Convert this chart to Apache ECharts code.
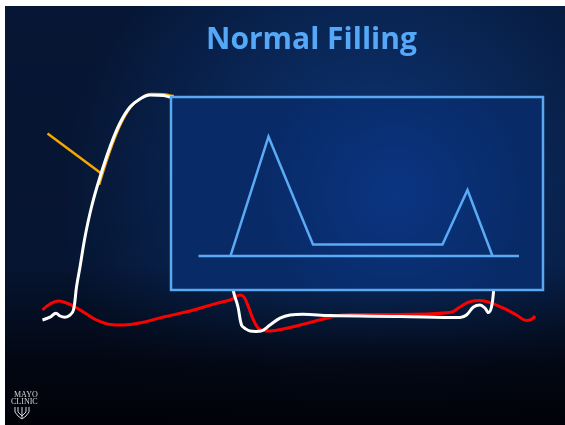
<!DOCTYPE html>
<html>
<head>
<meta charset="utf-8">
<script src="https://cdn.jsdelivr.net/npm/echarts@6/dist/echarts.min.js"></script>
<style>
  html, body { margin: 0; padding: 0; background: #ffffff; }
  #chart { width: 565px; height: 425px; }
</style>
</head>
<body>
<div id="chart"></div>
<script>
// Cardiac cycle: time (ms) vs pressure (mmHg)
const lvPressure = [
  [5, 7.5], [20, 8.9], [32, 10.9], [40, 9.5], [50, 8.9], [60, 9.9], [67, 12.5],
  [73, 24], [80, 34], [90, 49], [103, 64], [120, 79], [140, 94], [160, 106],
  [180, 114], [200, 118], [220, 120], [247, 119.7], [260, 119],
  [300, 117.5], [340, 102], [370, 67], [384, 27.5],
  [387, 21.7], [396, 14], [403, 5], [410, 3.3], [420, 2], [432, 1.8], [442, 2],
  [460, 5], [480, 8.4], [500, 10], [526, 10.4], [580, 9.7], [720, 9.3],
  [840, 8.8], [853, 10], [867, 14], [880, 15], [890, 13.4], [897, 11.2],
  [903, 14], [907, 21.7], [912, 42.5], [914, 67.5]
];
const laPressure = [
  [5, 12.5], [20, 15.5], [37, 17], [53, 16], [70, 14], [90, 11], [113, 7.5],
  [140, 5.3], [167, 5], [200, 6], [247, 9], [300, 12], [353, 15.8], [380, 17.5],
  [400, 20], [408, 19], [417, 14], [427, 7.5], [440, 2.8], [460, 2], [493, 3.4],
  [533, 5.8], [573, 8.4], [620, 10.2], [720, 10.2], [820, 11.2], [840, 14],
  [860, 16.7], [880, 17.2], [900, 16.2], [927, 13.4], [953, 10], [973, 7.2],
  [983, 7.8], [990, 9.5]
];
// pointer to the upstroke
const pointer = [[15, 100.8], [124, 80.5]];

// Mitral inflow Doppler: time (ms) vs velocity (cm/s)
const mitralFlow = [
  [119, 0], [195, 105], [284, 10], [543, 10], [593, 58], [643, 0]
];
const dopplerBaseline = [[55, 0], [696, 0]];

const chart = echarts.init(document.getElementById('chart'), null, { renderer: 'canvas' });

const hiddenAxis = {
  show: false, axisLine: { show: false }, axisTick: { show: false },
  axisLabel: { show: false }, splitLine: { show: false }
};

const logoColor = '#d8d8d8';

chart.setOption({
  animation: false,
  backgroundColor: '#ffffff',
  title: {
    text: 'Normal Filling',
    left: 201, top: 20,
    textStyle: { fontFamily: 'Open Sans', fontWeight: 'bold', fontSize: 30, color: '#55a8f8' }
  },
  graphic: [
    {
      type: 'rect', z: -10, silent: true,
      shape: { x: 5, y: 6, width: 560, height: 419 },
      style: {
        fill: new echarts.graphic.RadialGradient(0.66, 0.46, 0.75, [
          { offset: 0, color: '#0c3a86' },
          { offset: 0.45, color: '#0a2a5e' },
          { offset: 1, color: '#061634' }
        ])
      }
    },
    {
      type: 'rect', z: -9, silent: true,
      shape: { x: 5, y: 6, width: 560, height: 419 },
      style: {
        fill: new echarts.graphic.LinearGradient(0, 0, 0, 1, [
          { offset: 0, color: 'rgba(2,6,16,0)' },
          { offset: 0.62, color: 'rgba(2,6,16,0.1)' },
          { offset: 0.85, color: 'rgba(2,4,12,0.85)' },
          { offset: 1, color: 'rgba(1,2,8,1)' }
        ])
      }
    },
    {
      type: 'text', z: 10, left: 14, top: 391,
      style: { text: 'MAYO', font: '8px "Liberation Serif"', fill: logoColor }
    },
    {
      type: 'text', z: 10, left: 11, top: 398,
      style: { text: 'CLINIC', font: '8px "Liberation Serif"', fill: logoColor }
    },
    {
      type: 'polyline', z: 10, silent: true,
      shape: { points: [[15, 407], [15, 412], [18, 416], [22, 419], [26, 416], [29, 412], [29, 407]] },
      style: { stroke: logoColor, lineWidth: 1, fill: 'none' }
    },
    {
      type: 'polyline', z: 10, silent: true,
      shape: { points: [[18, 407], [18, 412], [22, 416], [26, 412], [26, 407]] },
      style: { stroke: logoColor, lineWidth: 1, fill: 'none' }
    },
    {
      type: 'polyline', z: 10, silent: true,
      shape: { points: [[22, 407], [22, 418]] },
      style: { stroke: logoColor, lineWidth: 1, fill: 'none' }
    }
  ],
  grid: [
    { left: 40, top: 95, width: 500, height: 240, z: 1 },
    // window for the orange edge: same scale, clipped to the upper upstroke
    { left: 41.8, top: 93.8, width: 130, height: 90, z: 1 },
    {
      left: 171, top: 97, width: 372, height: 193, z: 5, show: true,
      backgroundColor: new echarts.graphic.RadialGradient(0.6, 0.5, 0.7, [
        { offset: 0, color: '#0b3582' },
        { offset: 1, color: '#082a66' }
      ]),
      borderColor: '#5aa8f0', borderWidth: 2.5
    }
  ],
  xAxis: [
    Object.assign({ type: 'value', gridIndex: 0, min: 0, max: 1000 }, hiddenAxis),
    Object.assign({ type: 'value', gridIndex: 1, min: 0, max: 260 }, hiddenAxis),
    Object.assign({ type: 'value', gridIndex: 2, min: 0, max: 744 }, hiddenAxis)
  ],
  yAxis: [
    Object.assign({ type: 'value', gridIndex: 0, min: 0, max: 120 }, hiddenAxis),
    Object.assign({ type: 'value', gridIndex: 1, min: 75, max: 120 }, hiddenAxis),
    Object.assign({ type: 'value', gridIndex: 2, min: -30, max: 140 }, hiddenAxis)
  ],
  series: [
    {
      type: 'line', xAxisIndex: 1, yAxisIndex: 1, data: lvPressure, smooth: 0.4,
      symbol: 'none', z: 1, clip: true, lineStyle: { color: '#f5a800', width: 2.5 }
    },
    {
      type: 'line', xAxisIndex: 0, yAxisIndex: 0, data: pointer,
      symbol: 'none', z: 1, lineStyle: { color: '#f5a800', width: 2.5 }
    },
    {
      type: 'line', xAxisIndex: 0, yAxisIndex: 0, data: laPressure, smooth: 0.4,
      symbol: 'none', z: 2, lineStyle: { color: '#ff0000', width: 3 }
    },
    {
      type: 'line', xAxisIndex: 0, yAxisIndex: 0, data: lvPressure, smooth: 0.4,
      symbol: 'none', z: 3, lineStyle: { color: '#ffffff', width: 3 }
    },
    {
      type: 'line', xAxisIndex: 2, yAxisIndex: 2, data: dopplerBaseline,
      symbol: 'none', z: 8, lineStyle: { color: '#5aaaf5', width: 2.5 }
    },
    {
      type: 'line', xAxisIndex: 2, yAxisIndex: 2, data: mitralFlow,
      symbol: 'none', z: 8, lineStyle: { color: '#5aaaf5', width: 2.5, join: 'miter' }
    }
  ]
});
</script>
</body>
</html>
